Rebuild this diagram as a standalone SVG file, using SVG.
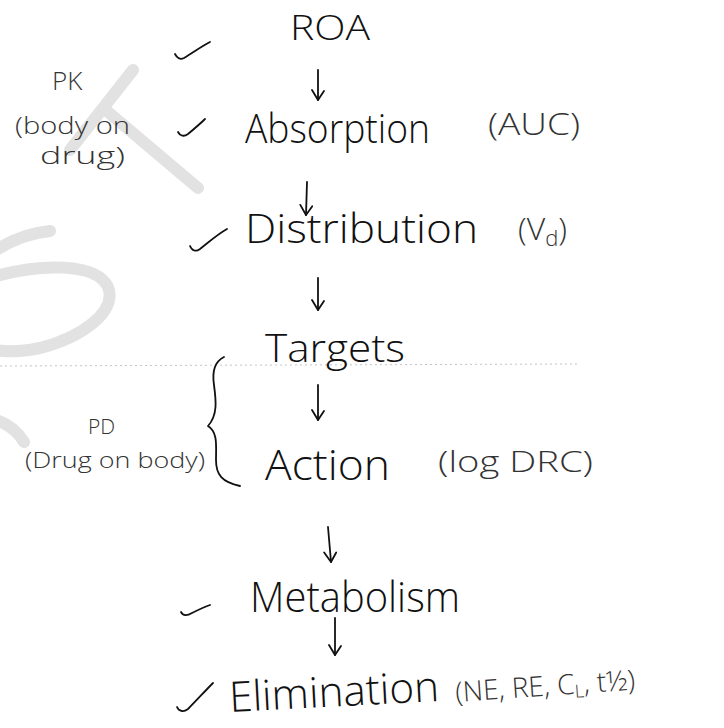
<svg xmlns="http://www.w3.org/2000/svg" width="724" height="728" viewBox="0 0 724 728">
  <defs>
    <marker id="head" viewBox="0 0 14 14" refX="12" refY="7" markerWidth="14" markerHeight="14" markerUnits="userSpaceOnUse" orient="auto">
      <path d="M3 1 L12 7 L2 13" fill="none" stroke="#111" stroke-width="1.8" stroke-linecap="round" stroke-linejoin="round"/>
    </marker>
    <style>
      .t { font-family: "Open Sans", "DejaVu Sans", sans-serif; font-weight: 300; fill: #111; }
      .note { font-family: "Open Sans", "DejaVu Sans", sans-serif; font-weight: 300; fill: #333; }
      .ink { fill: none; stroke: #111; stroke-width: 1.8; stroke-linecap: round; stroke-linejoin: round; }
      .arrow { fill: none; stroke: #111; stroke-width: 1.8; stroke-linecap: round; }
      .wm { fill: none; stroke: #e2e2e2; stroke-width: 12; stroke-linecap: round; }
    </style>
  </defs>

  <rect width="724" height="728" fill="#fff"/>

  <!-- faint watermark strokes -->
  <g id="watermark">
    <path class="wm" d="M133 70 L70 150"/>
    <path class="wm" d="M108 112 L198 188"/>
    <path class="wm" d="M50 231 C30 233 12 240 -4 250"/>
    <path class="wm" d="M-4 276 C40 264 96 262 108 287 C118 312 80 338 40 348 C20 352 6 352 -4 350"/>
    <path class="wm" d="M-4 420 C8 424 18 432 24 442"/>
  </g>

  <!-- faint dotted rule -->
  <line x1="0" y1="366" x2="578" y2="364" stroke="#c4c4c4" stroke-width="1" stroke-dasharray="2 3"/>

  <!-- main chain -->
  <g id="roa"><text class="t" x="290" y="40" font-size="34" textLength="80" lengthAdjust="spacingAndGlyphs">ROA</text></g>
  <g id="absorption">
    <text class="t" x="245" y="143" font-size="40" textLength="185" lengthAdjust="spacingAndGlyphs">Absorption</text>
    <text class="note" x="488" y="135" font-size="32" textLength="92" lengthAdjust="spacingAndGlyphs">(AUC)</text>
  </g>
  <g id="distribution">
    <text class="t" x="245" y="243" font-size="40" textLength="233" lengthAdjust="spacingAndGlyphs">Distribution</text>
    <text class="note" x="518" y="240" font-size="32">(V<tspan font-size="22" dy="6">d</tspan><tspan dy="-6">)</tspan></text>
  </g>
  <g id="targets"><text class="t" x="265" y="362" font-size="38" textLength="140" lengthAdjust="spacingAndGlyphs">Targets</text></g>
  <g id="action">
    <text class="t" x="265" y="480" font-size="42" textLength="125" lengthAdjust="spacingAndGlyphs">Action</text>
    <text class="note" x="438" y="472" font-size="30" textLength="155" lengthAdjust="spacingAndGlyphs">(log DRC)</text>
  </g>
  <g id="metabolism"><text class="t" x="250" y="612" font-size="42" textLength="210" lengthAdjust="spacingAndGlyphs">Metabolism</text></g>
  <g id="elimination">
    <text class="t" x="230" y="712" font-size="42" textLength="210" lengthAdjust="spacingAndGlyphs" transform="rotate(-3 230 712)">Elimination</text>
    <text class="note" x="456" y="702" font-size="28" transform="rotate(-4 456 702)">(NE, RE, C<tspan font-size="18" dy="4">L</tspan><tspan dy="-4">, t½)</tspan></text>
  </g>

  <!-- side labels -->
  <g id="pk">
    <text class="note" x="52" y="90" font-size="26">PK</text>
    <text class="note" x="15" y="134" font-size="23" textLength="115" lengthAdjust="spacingAndGlyphs">(body on</text>
    <text class="note" x="40" y="164" font-size="23" textLength="85" lengthAdjust="spacingAndGlyphs">drug)</text>
  </g>
  <g id="pd">
    <text class="note" x="88" y="434" font-size="21">PD</text>
    <text class="note" x="25" y="468" font-size="22" textLength="180" lengthAdjust="spacingAndGlyphs">(Drug on body)</text>
    <path class="ink" d="M224 357 C214 362 212 372 214 385 C216 400 218 415 208 426 C218 432 216 446 216 460 C216 475 222 482 240 486"/>
  </g>

  <!-- tick marks -->
  <g id="ticks">
    <path class="ink" d="M175 54 C177 58 180 60 184 58 C194 52 202 46 210 42"/>
    <path class="ink" d="M178 132 C180 136 184 137 188 134 C194 129 200 124 205 119"/>
    <path class="ink" d="M190 246 C192 251 196 252 200 249 C210 241 218 234 227 229"/>
    <path class="ink" d="M181 612 C183 616 187 616 192 613 C198 610 204 607 210 605"/>
    <path class="ink" d="M177 707 C179 712 184 712 188 709 C197 700 205 691 213 683"/>
  </g>

  <!-- connectors -->
  <g id="connectors">
    <path class="arrow" d="M318 70 L318 100" marker-end="url(#head)"/>
    <path class="arrow" d="M307 182 L306 215" marker-end="url(#head)"/>
    <path class="arrow" d="M318 278 L318 310" marker-end="url(#head)"/>
    <path class="arrow" d="M318 385 L318 420" marker-end="url(#head)"/>
    <path class="arrow" d="M328 527 L331 562" marker-end="url(#head)"/>
    <path class="arrow" d="M335 618 L335 655" marker-end="url(#head)"/>
  </g>
</svg>
